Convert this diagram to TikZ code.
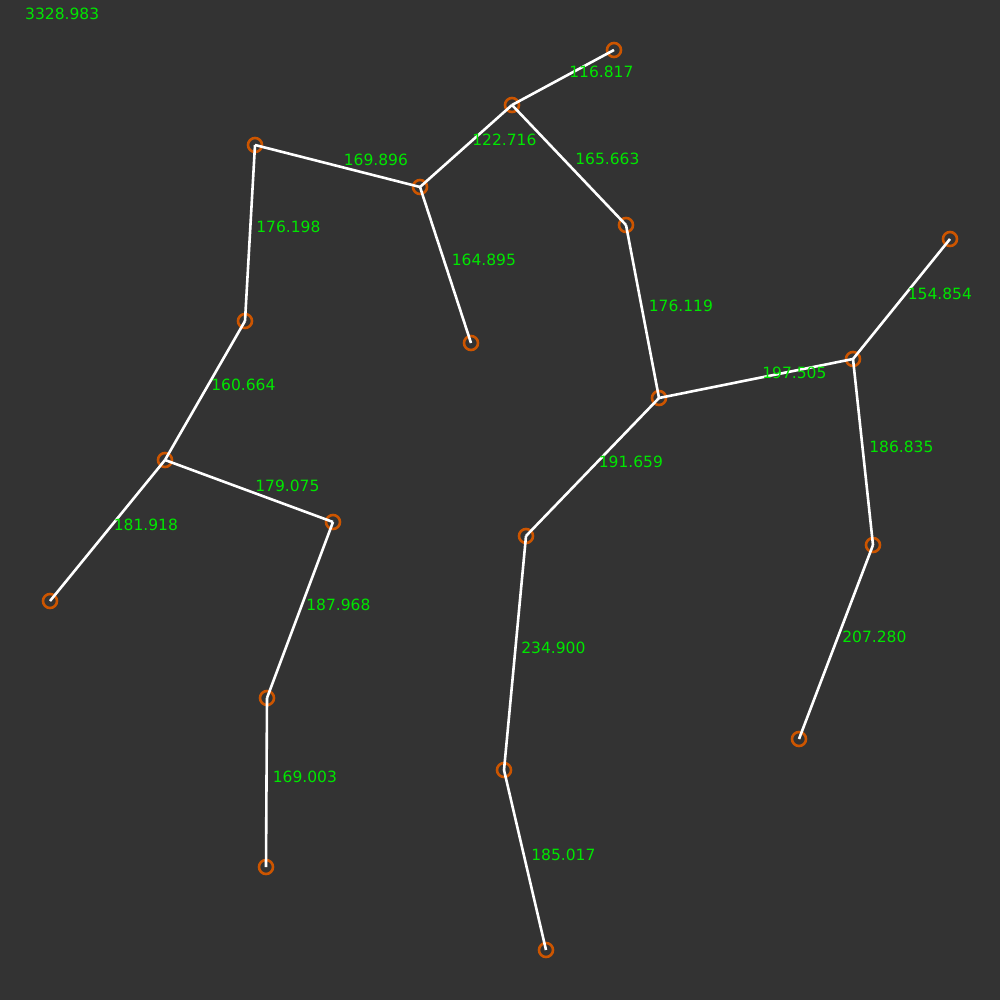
\documentclass[tikz,border=0pt]{standalone}
\usepackage{fontspec}
\setmainfont{DejaVu Sans}
\definecolor{bgdark}{HTML}{333333}
\definecolor{ringorange}{RGB}{204,85,0}
\definecolor{lengreen}{RGB}{0,230,0}

\begin{document}
\begin{tikzpicture}
		[x=1pt,y=-1pt,
		vertex/.style={circle,draw=ringorange,line width=2.6pt,inner sep=0pt,minimum size=14pt},
		edge/.style={draw=white,line width=2.6pt},
		len/.style={text=lengreen,anchor=base west,xshift=5pt,inner sep=0pt,font=\fontsize{15.5}{18}\selectfont}]
		\fill [bgdark] (0,0) rectangle (1000,1000);
		\node [len] (total) at (20,20) {3328.983};

		\node [vertex] (a) at (255,145) {};
		\node [vertex] (b) at (420,187) {};
		\node [vertex] (c) at (512,105) {};
		\node [vertex] (d) at (614,50) {};
		\node [vertex] (e) at (626,225) {};
		\node [vertex] (f) at (471,343) {};
		\node [vertex] (g) at (245,321) {};
		\node [vertex] (h) at (165,460) {};
		\node [vertex] (i) at (50,601) {};
		\node [vertex] (j) at (333,522) {};
		\node [vertex] (k) at (267,698) {};
		\node [vertex] (l) at (266,867) {};
		\node [vertex] (m) at (659,398) {};
		\node [vertex] (n) at (853,359) {};
		\node [vertex] (o) at (950,239) {};
		\node [vertex] (p) at (873,545) {};
		\node [vertex] (q) at (799,739) {};
		\node [vertex] (r) at (526,536) {};
		\node [vertex] (s) at (504,770) {};
		\node [vertex] (t) at (546,950) {};

		\draw [edge] (a.center) -- node [len]{169.896} (b.center);
		\draw [edge] (b.center) -- node [len]{122.716} (c.center);
		\draw [edge] (c.center) -- node [len]{116.817} (d.center);
		\draw [edge] (c.center) -- node [len]{165.663} (e.center);
		\draw [edge] (b.center) -- node [len]{164.895} (f.center);
		\draw [edge] (a.center) -- node [len]{176.198} (g.center);
		\draw [edge] (g.center) -- node [len]{160.664} (h.center);
		\draw [edge] (h.center) -- node [len]{181.918} (i.center);
		\draw [edge] (h.center) -- node [len]{179.075} (j.center);
		\draw [edge] (j.center) -- node [len]{187.968} (k.center);
		\draw [edge] (k.center) -- node [len]{169.003} (l.center);
		\draw [edge] (e.center) -- node [len]{176.119} (m.center);
		\draw [edge] (m.center) -- node [len]{197.505} (n.center);
		\draw [edge] (n.center) -- node [len]{154.854} (o.center);
		\draw [edge] (n.center) -- node [len]{186.835} (p.center);
		\draw [edge] (p.center) -- node [len]{207.280} (q.center);
		\draw [edge] (m.center) -- node [len]{191.659} (r.center);
		\draw [edge] (r.center) -- node [len]{234.900} (s.center);
		\draw [edge] (s.center) -- node [len]{185.017} (t.center);

	\end{tikzpicture}
\end{document}
